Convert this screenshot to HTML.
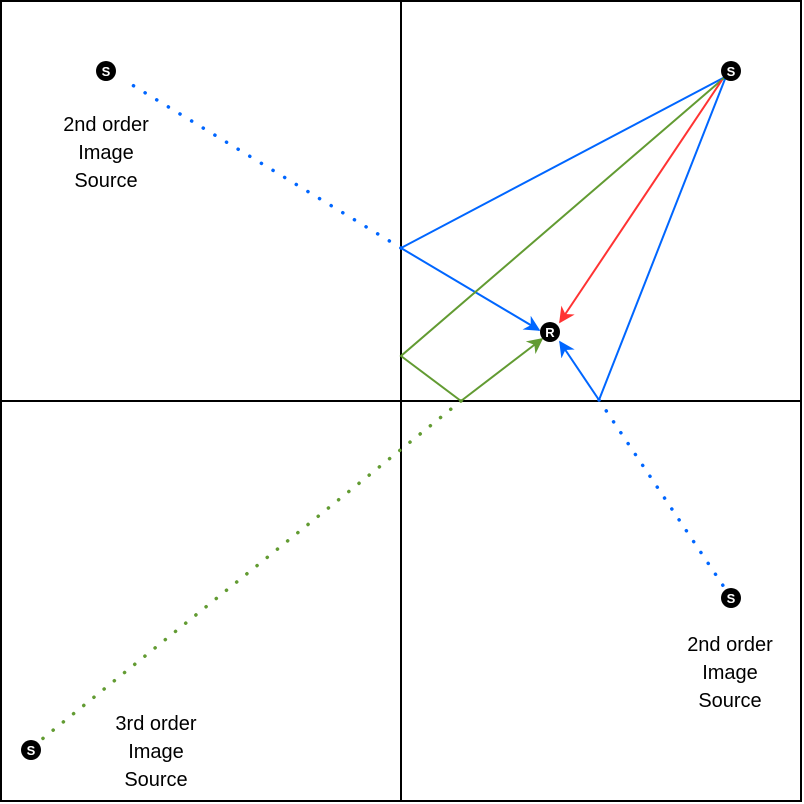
<!DOCTYPE html>
<html><head><meta charset="utf-8"><style>
html,body{margin:0;padding:0;background:#fff}
svg{display:block}
text{font-family:"Liberation Sans",Arial,sans-serif}
</style></head><body>
<svg width="804" height="804" viewBox="0 0 804 804">
<defs>
<marker id="ab" viewBox="0 0 10 10" refX="9" refY="5" markerWidth="16" markerHeight="16" markerUnits="userSpaceOnUse" orient="auto"><path d="M0,0 L10,5 L0,10 L3,5 Z" fill="#0066ff"/></marker>
<marker id="ag" viewBox="0 0 10 10" refX="9" refY="5" markerWidth="16" markerHeight="16" markerUnits="userSpaceOnUse" orient="auto"><path d="M0,0 L10,5 L0,10 L3,5 Z" fill="#629b32"/></marker>
<marker id="ar" viewBox="0 0 10 10" refX="9" refY="5" markerWidth="16" markerHeight="16" markerUnits="userSpaceOnUse" orient="auto"><path d="M0,0 L10,5 L0,10 L3,5 Z" fill="#ff3333"/></marker>
</defs>
<rect x="1" y="1" width="800" height="800" fill="none" stroke="#000" stroke-width="2"/>
<line x1="401" y1="1" x2="401" y2="801" stroke="#000" stroke-width="2"/>
<line x1="1" y1="401" x2="801" y2="401" stroke="#000" stroke-width="2"/>

<g fill="none" stroke-width="2">
<polyline points="725,77 401,248 539,330" stroke="#0066ff" marker-end="url(#ab)"/>
<line x1="401" y1="248" x2="124" y2="80" stroke="#0066ff" stroke-width="3.5" stroke-dasharray="0.1 13.5" stroke-linecap="round"/>
<polyline points="724,78 401,356 461,401" stroke="#629b32"/>
<line x1="461" y1="401" x2="542" y2="339" stroke="#629b32" marker-end="url(#ag)"/>
<line x1="461" y1="401" x2="36" y2="744" stroke="#629b32" stroke-width="3.5" stroke-dasharray="0.1 13" stroke-linecap="round"/>
<line x1="722" y1="80" x2="560" y2="322" stroke="#ff3333" marker-end="url(#ar)"/>
<polyline points="725,79 599,400" stroke="#0066ff"/>
<line x1="599" y1="400" x2="560" y2="342" stroke="#0066ff" marker-end="url(#ab)"/>
<line x1="599" y1="400" x2="726" y2="590" stroke="#0066ff" stroke-width="3.5" stroke-dasharray="0.1 13" stroke-linecap="round"/>
</g>

<g font-size="13" font-weight="bold" fill="#fff" text-anchor="middle">
<circle cx="106" cy="71" r="10" fill="#000"/><text x="106" y="76">S</text>
<circle cx="731" cy="71" r="10" fill="#000"/><text x="731" y="76">S</text>
<circle cx="550" cy="332" r="10" fill="#000"/><text x="550" y="337">R</text>
<circle cx="731" cy="598" r="10" fill="#000"/><text x="731" y="603">S</text>
<circle cx="31" cy="750" r="10" fill="#000"/><text x="31" y="755">S</text>
</g>

<g font-size="20" fill="#000" text-anchor="middle">
<text><tspan x="106" y="131">2nd order</tspan><tspan x="106" y="159">Image</tspan><tspan x="106" y="187">Source</tspan></text>
<text><tspan x="730" y="651">2nd order</tspan><tspan x="730" y="679">Image</tspan><tspan x="730" y="707">Source</tspan></text>
<text><tspan x="156" y="730">3rd order</tspan><tspan x="156" y="758">Image</tspan><tspan x="156" y="786">Source</tspan></text>
</g>
</svg>
</body></html>
